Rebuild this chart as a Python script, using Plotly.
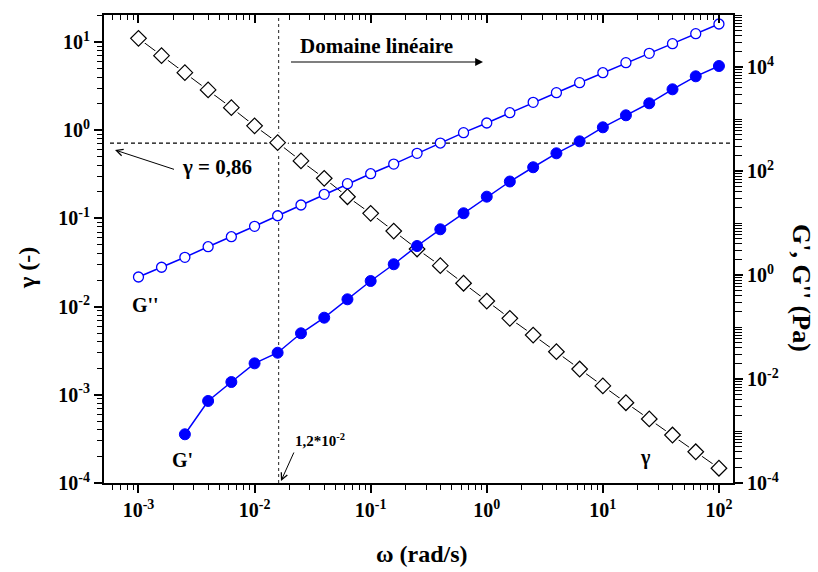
import plotly.graph_objects as go

# ---------------- data ----------------
omega = [0.001, 0.00158, 0.00251, 0.00398, 0.00631,
         0.01, 0.0158, 0.0251, 0.0398, 0.0631,
         0.1, 0.158, 0.251, 0.398, 0.631,
         1.0, 1.58, 2.51, 3.98, 6.31,
         10.0, 15.8, 25.1, 39.8, 63.1, 100.0]

gamma = [11.0, 7.0, 4.49, 2.86, 1.80,
         1.12, 0.722, 0.448, 0.285, 0.176,
         0.114, 0.0719, 0.045, 0.0291, 0.0184,
         0.01156, 0.00736, 0.00476, 0.00308, 0.00196,
         0.00126, 0.000813, 0.000532, 0.00035, 0.000226, 0.000147]

g_second = [0.916, 1.41, 2.19, 3.50, 5.45,
            8.64, 13.8, 22.2, 35.6, 57.0,
            88.7, 136, 219, 345, 546,
            838, 1321, 2094, 3206, 4989,
            7766, 12100, 18300, 28100, 43700, 67100]

omega_gp = omega[2:]
g_prime = [0.000865, 0.00378, 0.00875,
           0.020, 0.032, 0.0757, 0.151, 0.341,
           0.767, 1.61, 3.61, 7.57, 15.4,
           32.1, 62.8, 118, 219, 372,
           692, 1178, 2005, 3724, 6622, 10450]

omega_c = 0.0161      # vertical dotted line
gamma_c = 0.715       # horizontal dotted line

x_ticks = [1e-3, 1e-2, 1e-1, 1e0, 1e1, 1e2]
x_ticktext = ["10<sup>-3</sup>", "10<sup>-2</sup>", "10<sup>-1</sup>",
              "10<sup>0</sup>", "10<sup>1</sup>", "10<sup>2</sup>"]
yl_ticks = [1e-4, 1e-3, 1e-2, 1e-1, 1e0, 1e1]
yl_ticktext = ["10<sup>-4</sup>", "10<sup>-3</sup>", "10<sup>-2</sup>",
               "10<sup>-1</sup>", "10<sup>0</sup>", "10<sup>1</sup>"]
yr_ticks = [1e-4, 1e-2, 1e0, 1e2, 1e4]
yr_ticktext = ["10<sup>-4</sup>", "10<sup>-2</sup>", "10<sup>0</sup>",
               "10<sup>2</sup>", "10<sup>4</sup>"]
yr_odd = [1e-3, 1e-1, 1e1, 1e3, 1e5]

# ---------------- figure ----------------
FONT = "Liberation Serif"
BLUE = "#0000FF"

def minor_vals(lo, hi):
    vals = []
    for d in range(lo, hi + 1):
        for m in range(2, 10):
            vals.append(m * 10.0 ** d)
    return vals

fig = go.Figure()

# gamma: line, white gap markers, diamonds
fig.add_trace(go.Scatter(x=omega, y=gamma, mode="lines",
                         line=dict(color="black", width=1), yaxis="y",
                         showlegend=False, hoverinfo="skip"))
fig.add_trace(go.Scatter(x=omega, y=gamma, mode="markers",
                         marker=dict(symbol="diamond", size=17, color="white",
                                     line=dict(width=0)),
                         yaxis="y", showlegend=False, hoverinfo="skip"))
fig.add_trace(go.Scatter(x=omega, y=gamma, mode="markers", name="γ",
                         marker=dict(symbol="diamond", size=12, color="white",
                                     line=dict(color="black", width=1.2)),
                         yaxis="y", showlegend=False))

# G'' open circles
fig.add_trace(go.Scatter(x=omega, y=g_second, mode="lines+markers", name="G''",
                         line=dict(color=BLUE, width=1.5),
                         marker=dict(symbol="circle", size=10, color="white",
                                     line=dict(color=BLUE, width=1.3)),
                         yaxis="y2", showlegend=False))
# G' filled circles
fig.add_trace(go.Scatter(x=omega_gp, y=g_prime, mode="lines+markers", name="G'",
                         line=dict(color=BLUE, width=1.5),
                         marker=dict(symbol="circle", size=11, color=BLUE,
                                     line=dict(color=BLUE, width=1)),
                         yaxis="y2", showlegend=False))

# invisible trace to anchor the top axis
fig.add_trace(go.Scatter(x=[omega[0]], y=[gamma[0]], mode="markers",
                         marker=dict(opacity=0), xaxis="x2", yaxis="y",
                         showlegend=False, hoverinfo="skip"))

xr = [-3.297, 2.121]
tickfont = dict(family=FONT, size=20, color="black", weight="bold")

fig.update_layout(
    width=818, height=572,
    margin=dict(l=104, r=85, t=15, b=89),
    paper_bgcolor="white", plot_bgcolor="white",
    font=dict(family=FONT, color="black"),
    xaxis=dict(type="log", range=xr, showgrid=False, zeroline=False,
               showline=True, linecolor="black", linewidth=2,
               ticks="outside", ticklen=8, tickwidth=1.5, tickcolor="black",
               tickmode="array", tickvals=x_ticks, ticktext=x_ticktext,
               tickfont=tickfont,
               minor=dict(tickmode="array", tickvals=minor_vals(-4, 2),
                          ticks="outside", ticklen=5, tickwidth=1.3,
                          tickcolor="black", showgrid=False)),
    xaxis2=dict(type="log", range=xr, overlaying="x", side="top",
                matches="x", showgrid=False, zeroline=False,
                showline=True, linecolor="black", linewidth=2,
                ticks="inside", ticklen=8, tickwidth=1.5, tickcolor="black",
                tickmode="array", tickvals=x_ticks, showticklabels=False,
                minor=dict(tickmode="array", tickvals=minor_vals(-4, 2),
                           ticks="inside", ticklen=5, tickwidth=1.3,
                           tickcolor="black", showgrid=False)),
    yaxis=dict(type="log", range=[-4, 1.306], showgrid=False, zeroline=False,
               showline=True, linecolor="black", linewidth=2,
               ticks="outside", ticklen=8, tickwidth=1.5, tickcolor="black",
               tickmode="array", tickvals=yl_ticks, ticktext=yl_ticktext,
               tickfont=tickfont,
               minor=dict(tickmode="array", tickvals=minor_vals(-4, 1),
                          ticks="outside", ticklen=5, tickwidth=1.3,
                          tickcolor="black", showgrid=False)),
    yaxis2=dict(type="log", range=[-4, 5], overlaying="y", side="right",
                showgrid=False, zeroline=False,
                showline=True, linecolor="black", linewidth=2,
                ticks="outside", ticklen=8, tickwidth=1.5, tickcolor="black",
                tickmode="array", tickvals=yr_ticks, ticktext=yr_ticktext,
                tickfont=tickfont,
                minor=dict(tickmode="array", tickvals=minor_vals(-4, 4) + yr_odd,
                           ticks="outside", ticklen=7, tickwidth=1.3,
                           tickcolor="black", showgrid=False)),
)

# dotted reference lines
fig.add_shape(type="line", xref="x", yref="paper", x0=omega_c, x1=omega_c,
              y0=0, y1=1, line=dict(color="#444444", width=1.2, dash="3px,3px"),
              layer="below")
fig.add_shape(type="line", xref="paper", yref="y", x0=0.0095, x1=1,
              y0=gamma_c, y1=gamma_c,
              line=dict(color="black", width=1.2, dash="4px,3px"), layer="below")

W, H, L, T = 629.0, 468.0, 104.0, 15.0
def px(x):
    return (x - L) / W
def py(y):
    return (T + H - y) / H

def txt(x, y, s, size, xanchor="center", angle=0):
    fig.add_annotation(x=px(x), y=py(y), xref="paper", yref="paper", text=s,
                       showarrow=False, xanchor=xanchor, yanchor="middle",
                       textangle=angle,
                       font=dict(family=FONT, size=size, color="black",
                                 weight="bold"))

def arrow(hx, hy, tx, ty, head, size, width):
    fig.add_annotation(x=px(hx), y=py(hy), xref="paper", yref="paper", text=" ",
                       showarrow=True, ax=tx - hx, ay=ty - hy,
                       axref="pixel", ayref="pixel",
                       arrowhead=head, arrowsize=size, arrowwidth=width,
                       arrowcolor="black", font=dict(size=2))

txt(376, 46, "Domaine linéaire", 21)
arrow(483, 62, 289, 62, 2, 1.3, 1.2)
txt(217, 167, "γ = 0,86", 21)
arrow(115, 150, 176, 170, 5, 1.3, 1)
txt(320, 440, "1,2*10<sup>-2</sup>", 15)
arrow(281, 481, 295, 450, 5, 1.3, 1)
txt(130, 305, "G''", 20, xanchor="left")
txt(170, 460, "G'", 20, xanchor="left")
txt(645, 457, "γ", 20)
txt(422, 554, "ω (rad/s)", 24)
txt(27, 268, "γ (-)", 24, angle=-90)
txt(801, 288, "G', G'' (Pa)", 26, angle=90)

fig.write_html("out.html")
